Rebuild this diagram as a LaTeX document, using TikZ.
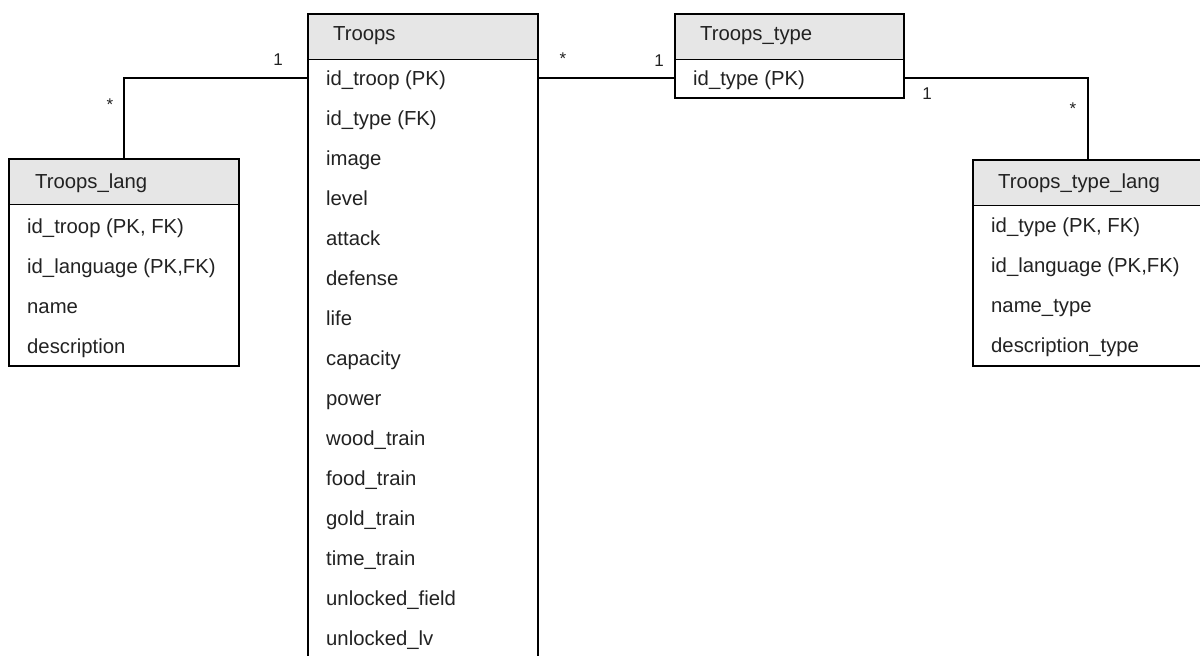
\documentclass[tikz,border=0pt]{standalone}
\usepackage{fontspec}
\setmainfont{Liberation Sans}
\definecolor{hdrgray}{HTML}{E6E6E6}
\definecolor{txt}{HTML}{222222}
\begin{document}
\begin{tikzpicture}[x=1pt,y=-1pt,
  tbl/.style={draw, line width=1.5pt, fill=white, inner sep=0pt, anchor=north west, minimum width=#1},
  hdr/.style={draw, line width=1.5pt, fill=hdrgray, inner sep=0pt, anchor=north west, minimum width=#1, minimum height=45.5pt},
  field/.style={anchor=base west, inner sep=0pt, text=txt, font=\fontsize{20.3}{24}\selectfont},
  mult/.style={anchor=base, inner sep=0pt, text=txt, font=\fontsize{17}{20}\selectfont},
  rel/.style={line width=1.5pt}]
\useasboundingbox (0,0) rectangle (1200,656);

% ---------- Troops ----------
\node[tbl=230pt, minimum height=680pt] (troops) at (307,13) {};
\node[hdr=230pt] (troopsh) at (307,13) {};
\node[field] (troopst) at (333,40) {Troops};
\foreach \t [count=\i from 0] in {id\_troop (PK),id\_type (FK),image,level,attack,defense,life,capacity,power,wood\_train,food\_train,gold\_train,time\_train,unlocked\_field,unlocked\_lv}
  \node[field] (tr\i) at (326,85+40*\i) {\t};

% ---------- Troops_type ----------
\node[tbl=229pt, minimum height=84pt] (ttype) at (674,13) {};
\node[hdr=229pt] (ttypeh) at (674,13) {};
\node[field] (ttypet) at (700,40) {Troops\_type};
\node[field] (tt0) at (693,85) {id\_type (PK)};

% ---------- Troops_lang ----------
\node[tbl=230pt, minimum height=207pt] (tlang) at (8,158) {};
\node[hdr=230pt] (tlangh) at (8,158) {};
\node[field] (tlangt) at (35,188) {Troops\_lang};
\foreach \t [count=\i from 0] in {id\_troop (PK{,} FK),id\_language (PK{,}FK),name,description}
  \node[field] (tl\i) at (27,233+40*\i) {\t};

% ---------- Troops_type_lang ----------
\node[tbl=230pt, minimum height=206pt] (ttlang) at (972,159) {};
\node[hdr=230pt] (ttlangh) at (972,159) {};
\node[field] (ttlangt) at (998,188) {Troops\_type\_lang};
\foreach \t [count=\i from 0] in {id\_type (PK{,} FK),id\_language (PK{,}FK),name\_type,description\_type}
  \node[field] (ttl\i) at (991,232+40*\i) {\t};

% ---------- connectors ----------
\draw[rel] (tlang.north) |- ([yshift=7pt]tr0.base -| troops.west);
\draw[rel] ([yshift=7pt]tr0.base -| troops.east) -- ([yshift=7pt]tt0.base -| ttype.west);
\draw[rel] ([yshift=7pt]tt0.base -| ttype.east) -| (ttlang.north);

% ---------- multiplicities ----------
\node[mult] (m1) at (278,65) {1};
\node[mult] (m2) at (110,110) {*};
\node[mult] (m3) at (563,64) {*};
\node[mult] (m4) at (659,66) {1};
\node[mult] (m5) at (927,99) {1};
\node[mult] (m6) at (1073,114) {*};
\end{tikzpicture}
\end{document}
